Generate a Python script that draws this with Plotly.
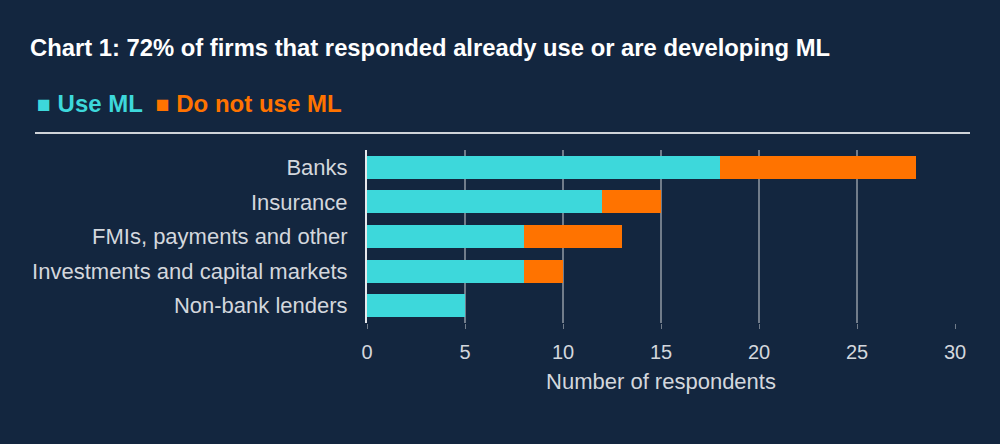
import plotly.graph_objects as go

categories = ["Banks", "Insurance", "FMIs, payments and other",
              "Investments and capital markets", "Non-bank lenders"]
use_ml = [18, 12, 8, 8, 5]
not_use_ml = [10, 3, 5, 2, 0]
x_ticks = [0, 5, 10, 15, 20, 25, 30]

bg = "#13263f"
cyan = "#3dd8db"
orange = "#ff7300"
txt = "#d3d7dd"

fig = go.Figure()
fig.add_trace(go.Bar(y=categories, x=use_ml, orientation="h", name="Use ML",
                     marker=dict(color=cyan, line=dict(width=0))))
fig.add_trace(go.Bar(y=categories, x=not_use_ml, orientation="h", name="Do not use ML",
                     marker=dict(color=orange, line=dict(width=0))))

fig.update_layout(
    barmode="stack",
    bargap=0.33,
    width=1000, height=444,
    paper_bgcolor=bg, plot_bgcolor=bg,
    margin=dict(l=367, r=45, t=150, b=121),
    showlegend=False,
    font=dict(family="Liberation Sans, Arial, sans-serif", color=txt, size=20),
    xaxis=dict(range=[0, 30], tickvals=x_ticks, showgrid=True, gridcolor="#717c8a",
               gridwidth=2, zeroline=False, ticks="outside", ticklen=5,
               tickcolor="#717c8a", tickfont=dict(size=20, color=txt),
               ticklabelstandoff=6,
               title=dict(text="Number of respondents", font=dict(size=22, color=txt),
                          standoff=11)),
    yaxis=dict(autorange="reversed", showline=True, linecolor="#e6e8eb", linewidth=2,
               ticks="", tickfont=dict(size=22, color=txt), ticklabelstandoff=13),
)

# title
fig.add_annotation(xref="paper", yref="paper", x=(28 - 367) / 588, y=1 + (150 - 47) / 173,
                   xanchor="left", yanchor="middle", showarrow=False,
                   text="<b>Chart 1: 72% of firms that responded already use or are developing ML</b>",
                   font=dict(size=23.8, color="#ffffff"))

# coloured text legend
legend_text = (f"<span style='color:{cyan};font-size:23px'>■</span>"
               f"<span style='color:{cyan}'><b> Use ML</b></span>"
               f"<span style='color:{orange};font-size:23px'>  ■</span>"
               f"<span style='color:{orange}'><b> Do not use ML</b></span>")
fig.add_annotation(xref="paper", yref="paper", x=(35 - 367) / 588, y=1 + (150 - 103) / 173,
                   xanchor="left", yanchor="middle", showarrow=False,
                   text=legend_text, font=dict(size=24))

fig.add_shape(type="line", xref="paper", yref="paper",
              x0=(35 - 367) / 588, x1=(970 - 367) / 588,
              y0=1 + (150 - 133) / 173, y1=1 + (150 - 133) / 173,
              line=dict(color="#cfd3d8", width=2))

fig.write_html("out.html", config={"displayModeBar": False},
               post_script="document.body.style.margin='0';"
                           "document.body.style.background='#13263f';")
